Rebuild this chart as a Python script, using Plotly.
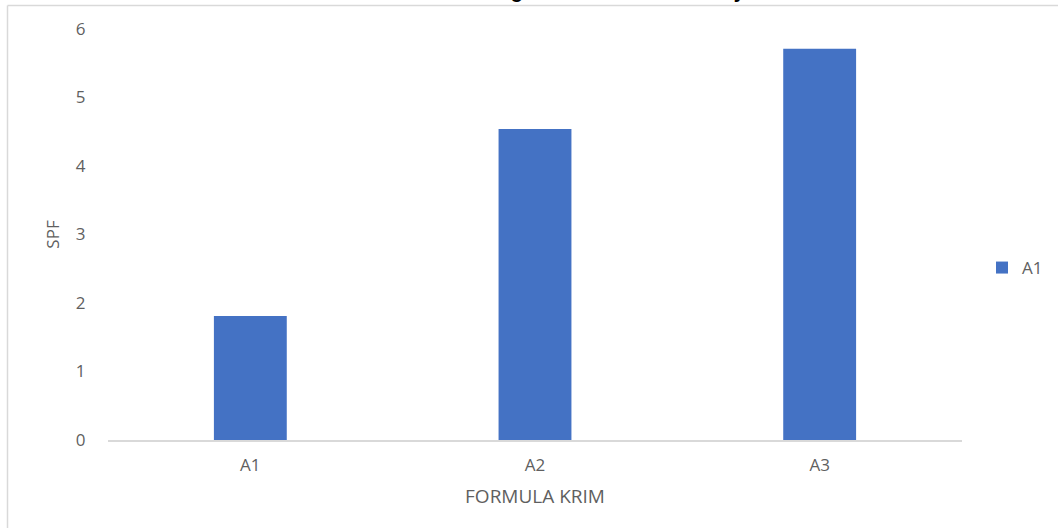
import plotly.graph_objects as go

categories = ["A1", "A2", "A3"]
spf_values = [1.81, 4.54, 5.71]
series_name = "A1"
y_ticks = [0, 1, 2, 3, 4, 5, 6]
title_text = "Grafik Hasil Perhitungan SPF Krim Tabir Surya"

W, H = 1058, 528
L, R, T, B = 108, 96, 29, 88
pw, ph = W - L - R, H - T - B

fig = go.Figure()
fig.add_trace(go.Bar(x=categories, y=spf_values, name=series_name,
                     marker=dict(color="#4472C4", line=dict(width=0)),
                     showlegend=True))

font_fam = "Open Sans, Lato, sans-serif"
grey = "#5f5f5f"
fig.update_layout(
    width=W, height=H,
    margin=dict(l=L, r=R, t=T, b=B, pad=0, autoexpand=False),
    paper_bgcolor="white", plot_bgcolor="white",
    bargap=0.744,
    font=dict(family=font_fam, size=17, color=grey),
    showlegend=True,
    legend=dict(x=(982 - L) / pw, y=(H - B - 268) / ph, xanchor="left", yanchor="middle",
                font=dict(size=17, color=grey), itemwidth=30,
                bgcolor="rgba(0,0,0,0)"),
    xaxis=dict(showgrid=False, showline=True, linecolor="#d9d9d9", linewidth=1.5,
               ticks="outside", ticklen=9, tickcolor="rgba(0,0,0,0)",
               tickfont=dict(size=17, color=grey),
               title=dict(text="FORMULA KRIM", font=dict(size=19, color=grey), standoff=15),
               zeroline=False),
    yaxis=dict(range=[0, 6], tickvals=y_ticks, showgrid=False, showline=False,
               zeroline=False, ticks="outside", ticklen=18, tickcolor="rgba(0,0,0,0)",
               tickfont=dict(size=17, color=grey),
               title=dict(text="SPF", font=dict(size=17, color=grey), standoff=11)),
)

# title, clipped at the top of the page as in the reference
fig.add_annotation(text="<b>" + title_text + "</b>", xref="paper", yref="paper",
                   x=0.5, y=(H - B - 4) / ph, xanchor="center", yanchor="bottom",
                   showarrow=False, font=dict(family="Liberation Sans, Arial", size=20, color="black"))

# chart frame (light gray) left and top edges
fig.add_shape(type="line", xref="paper", yref="paper",
              x0=(7.5 - L) / pw, x1=(W + 5 - L) / pw, y0=(H - B - 5.5) / ph, y1=(H - B - 5.5) / ph,
              line=dict(color="#d9d9d9", width=1.5))
fig.add_shape(type="line", xref="paper", yref="paper",
              x0=(7.5 - L) / pw, x1=(7.5 - L) / pw, y0=(H - B - 5.5) / ph, y1=(H - B - H - 5) / ph,
              line=dict(color="#d9d9d9", width=1.5))

fig.write_html("out.html")
